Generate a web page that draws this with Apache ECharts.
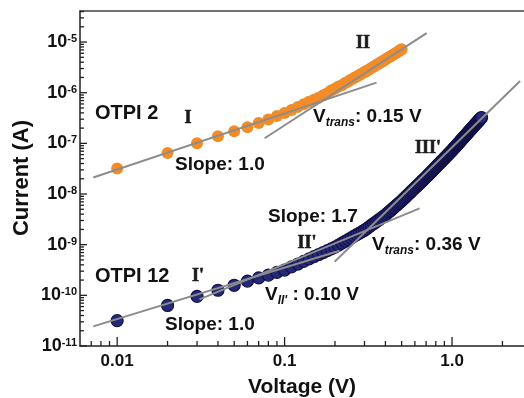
<!DOCTYPE html>
<html><head><meta charset="utf-8">
<script src="https://cdn.jsdelivr.net/npm/echarts@6/dist/echarts.min.js"></script>
<style>html,body{margin:0;padding:0;background:#fff}#c{width:524px;height:398px}</style>
</head><body><div id="c"></div>
<script>
// ---- data ----
const voltageOtpi2 = [0.01,0.02,0.03,0.04,0.05,0.06,0.07,0.08,0.09,0.10,
  0.11,0.12,0.13,0.14,0.15,0.16,0.17,0.18,0.19,0.20,
  0.21,0.22,0.23,0.24,0.25,0.26,0.27,0.28,0.29,0.30,
  0.31,0.32,0.33,0.34,0.35,0.36,0.37,0.38,0.39,0.40,
  0.41,0.42,0.43,0.44,0.45,0.46,0.47,0.48,0.49,0.50];
const currentOtpi2 = [3.2e-8,6.46e-8,1.0e-7,1.38e-7,1.74e-7,2.09e-7,2.51e-7,2.95e-7,3.47e-7,3.98e-7,
  4.57e-7,5.25e-7,5.89e-7,6.61e-7,7.24e-7,7.94e-7,8.91e-7,9.77e-7,1.10e-6,1.20e-6,
  1.32e-6,1.41e-6,1.55e-6,1.66e-6,1.82e-6,1.95e-6,2.09e-6,2.24e-6,2.40e-6,2.57e-6,
  2.72e-6,2.88e-6,3.09e-6,3.24e-6,3.47e-6,3.63e-6,3.85e-6,4.07e-6,4.27e-6,4.52e-6,
  4.79e-6,5.01e-6,5.25e-6,5.50e-6,5.75e-6,6.03e-6,6.31e-6,6.61e-6,6.92e-6,7.24e-6];

const voltageOtpi12 = [0.01,0.02,0.03,0.04,0.05,0.06,0.07,0.08,0.09,0.10,
  0.11,0.12,0.13,0.14,0.15,0.16,0.17,0.18,0.19,0.20,
  0.21,0.22,0.23,0.24,0.25,0.26,0.27,0.28,0.29,0.30,
  0.31,0.32,0.33,0.34,0.35,0.36,0.37,0.38,0.39,0.40,
  0.41,0.42,0.43,0.44,0.45,0.46,0.47,0.48,0.49,0.50,
  0.51,0.52,0.53,0.54,0.55,0.56,0.57,0.58,0.59,0.60,
  0.61,0.62,0.63,0.64,0.65,0.66,0.67,0.68,0.69,0.70,
  0.71,0.72,0.73,0.74,0.75,0.76,0.77,0.78,0.79,0.80,
  0.81,0.82,0.83,0.84,0.85,0.86,0.87,0.88,0.89,0.90,
  0.91,0.92,0.93,0.94,0.95,0.96,0.97,0.98,0.99,1.00,
  1.01,1.02,1.03,1.04,1.05,1.06,1.07,1.08,1.09,1.10,
  1.11,1.12,1.13,1.14,1.15,1.16,1.17,1.18,1.19,1.20,
  1.21,1.22,1.23,1.24,1.25,1.26,1.27,1.28,1.29,1.30,
  1.31,1.32,1.33,1.34,1.35,1.36,1.37,1.38,1.39,1.40,
  1.41,1.42,1.43,1.44,1.45,1.46,1.47,1.48,1.49,1.50];
const currentOtpi12 = [3.16e-11,6.31e-11,9.55e-11,1.26e-10,1.58e-10,1.91e-10,2.21e-10,2.51e-10,2.84e-10,3.16e-10,
  3.65e-10,4.15e-10,4.69e-10,5.24e-10,5.81e-10,6.40e-10,7.00e-10,7.62e-10,8.28e-10,8.93e-10,
  9.79e-10,1.07e-9,1.17e-9,1.26e-9,1.36e-9,1.47e-9,1.58e-9,1.69e-9,1.81e-9,1.93e-9,
  2.08e-9,2.25e-9,2.43e-9,2.60e-9,2.79e-9,2.99e-9,3.18e-9,3.40e-9,3.62e-9,3.85e-9,
  4.14e-9,4.43e-9,4.73e-9,5.06e-9,5.41e-9,5.78e-9,6.14e-9,6.52e-9,6.92e-9,7.35e-9,
  7.85e-9,8.32e-9,8.83e-9,9.38e-9,9.93e-9,1.05e-8,1.12e-8,1.18e-8,1.25e-8,1.32e-8,
  1.38e-8,1.46e-8,1.53e-8,1.61e-8,1.70e-8,1.79e-8,1.87e-8,1.97e-8,2.06e-8,2.15e-8,
  2.25e-8,2.37e-8,2.48e-8,2.60e-8,2.72e-8,2.85e-8,2.96e-8,3.11e-8,3.26e-8,3.39e-8,
  3.52e-8,3.70e-8,3.85e-8,4.00e-8,4.16e-8,4.33e-8,4.53e-8,4.68e-8,4.86e-8,5.06e-8,
  5.26e-8,5.47e-8,5.64e-8,5.86e-8,6.10e-8,6.30e-8,6.55e-8,6.75e-8,7.01e-8,7.24e-8,
  7.50e-8,7.82e-8,8.09e-8,8.38e-8,8.67e-8,8.97e-8,9.27e-8,9.59e-8,9.93e-8,1.03e-7,
  1.06e-7,1.10e-7,1.14e-7,1.18e-7,1.22e-7,1.25e-7,1.29e-7,1.34e-7,1.38e-7,1.42e-7,
  1.47e-7,1.51e-7,1.56e-7,1.60e-7,1.66e-7,1.70e-7,1.76e-7,1.80e-7,1.87e-7,1.91e-7,
  1.96e-7,2.03e-7,2.08e-7,2.14e-7,2.19e-7,2.27e-7,2.33e-7,2.39e-7,2.45e-7,2.51e-7,
  2.58e-7,2.64e-7,2.72e-7,2.79e-7,2.86e-7,2.93e-7,3.01e-7,3.08e-7,3.16e-7,3.24e-7];

// fitted lines (endpoints: [voltage, current])
const fitOtpi2Ohmic = [[0.0072, 2.12e-8], [0.354, 1.58e-6]];
const fitOtpi2Region2 = [[0.076, 1.26e-7], [0.705, 1.5e-5]];
const fitOtpi12Ohmic = [[0.0072, 2.44e-11], [0.213, 7.6e-10]];
const fitOtpi12Region2 = [[0.031, 8.3e-11], [0.64, 5.2e-9]];
const fitOtpi12Region3 = [[0.199, 4.6e-10], [2.55, 1.7e-6]];

// axes
const xMin = 0.006, xMax = 2.69;
const yMin = 1e-11, yMax = 4.1e-5;
const xMajorTicks = [0.01, 0.1, 1];
const xTickLabels = ['0.01', '0.1', '1.0'];
const yMajorTicks = [1e-11, 1e-10, 1e-9, 1e-8, 1e-7, 1e-6, 1e-5];
const yTickExponents = ['-11', '-10', '-9', '-8', '-7', '-6', '-5'];

// minor tick positions (2..9 per decade) built from major ticks
const xMinorTicks = [];
[0.001, 0.01, 0.1, 1].forEach(d => { for (let m = 2; m <= 9; m++) { const v = d * m; if (v > xMin && v < xMax) xMinorTicks.push(v); } });
const yMinorTicks = [];
[1e-11, 1e-10, 1e-9, 1e-8, 1e-7, 1e-6, 1e-5].forEach(d => { for (let m = 2; m <= 9; m++) { const v = d * m; if (v > yMin && v < yMax) yMinorTicks.push(v); } });

const FF = '"Liberation Sans", Arial, Helvetica, sans-serif';
const SERIF = '"Liberation Serif", "Times New Roman", serif';

function pairs(xs, ys) { return xs.map((x, i) => [x, ys[i]]); }
function near(a, b) { return Math.abs(Math.log10(a) - Math.log10(b)) < 1e-6; }

function tickSeries(axis, values, len) {
  return {
    type: 'custom', silent: true, z: 6, clip: false,
    data: values.map(v => axis === 'x' ? [v, yMin] : [xMin, v]),
    encode: { x: 0, y: 1 },
    renderItem: function (params, api) {
      const p = api.coord([api.value(0), api.value(1)]);
      const shape = axis === 'x'
        ? { x1: p[0], y1: p[1], x2: p[0], y2: p[1] - len }
        : { x1: p[0], y1: p[1], x2: p[0] + len, y2: p[1] };
      return { type: 'line', shape: shape, style: { stroke: '#222', lineWidth: 1.3 } };
    }
  };
}
function fitSeries(d) {
  return { type: 'line', data: d, symbol: 'none', z: 4, silent: true,
    lineStyle: { color: '#8c8c8c', width: 2 } };
}
function txt(x, y, text, opt) {
  return { type: 'text', x: x, y: y, z: 100, silent: true,
    style: Object.assign({ text: text, fontFamily: FF, fontWeight: 'bold', fontSize: 19,
      fill: '#111', align: 'left', verticalAlign: 'middle' }, opt || {}) };
}
function roman(x, y, text) {
  return txt(x, y, text, { fontFamily: SERIF, fontWeight: 900, fontSize: 18, align: 'center', fill: '#1a1a1a', stroke: '#1a1a1a', lineWidth: 0.6 });
}
function vLabel(x, y, sub, rest) {
  return { type: 'text', x: x, y: y, z: 100, silent: true,
    style: { text: '{v|V}{s|' + sub + '}{v|' + rest + '}', align: 'left', verticalAlign: 'middle',
      rich: {
        v: { fontFamily: FF, fontWeight: 'bold', fontSize: 19, lineHeight: 19, fill: '#111' },
        s: { fontFamily: FF, fontWeight: 'bold', fontStyle: 'italic', fontSize: 12, lineHeight: 12, padding: [11, 0, 0, 0], fill: '#111' }
      } } };
}

const chart = echarts.init(document.getElementById('c'), null, { renderer: 'canvas' });
chart.setOption({
  animation: false,
  backgroundColor: '#fff',
  grid: { left: 80, top: 11, right: 0, bottom: 52, outerBoundsMode: 'none', containLabel: false },
  xAxis: [{
    type: 'log', logBase: 10, min: xMin, max: xMax,
    axisLine: { show: true, lineStyle: { color: '#222', width: 1.5 } },
    axisTick: { show: false }, splitLine: { show: false }, minorTick: { show: false },
    axisLabel: { show: true, margin: 7, color: '#111', fontFamily: FF, fontWeight: 'bold', fontSize: 17,
      showMinLabel: true, showMaxLabel: true, hideOverlap: false,
      formatter: function (v) { for (let i = 0; i < xMajorTicks.length; i++) if (near(v, xMajorTicks[i])) return xTickLabels[i]; return ''; } }
  }, {
    type: 'log', logBase: 10, min: xMin, max: xMax, position: 'top',
    axisLine: { show: true, lineStyle: { color: '#444', width: 1.5 } },
    axisTick: { show: false }, axisLabel: { show: false }, splitLine: { show: false }
  }],
  yAxis: {
    type: 'log', logBase: 10, min: yMin, max: yMax,
    axisLine: { show: true, lineStyle: { color: '#222', width: 1.5 } },
    axisTick: { show: false }, splitLine: { show: false }, minorTick: { show: false },
    axisLabel: { show: true, margin: 3, hideOverlap: false,
      formatter: function (v) { for (let i = 0; i < yMajorTicks.length; i++) if (near(v, yMajorTicks[i])) return '{b|10}{s|' + yTickExponents[i] + '}'; return ''; },
      rich: {
        b: { fontFamily: FF, fontWeight: 'bold', fontSize: 18, lineHeight: 18, color: '#111' },
        s: { fontFamily: FF, fontWeight: 'bold', fontSize: 11, lineHeight: 11, padding: [0, 0, 6, 0], color: '#111' }
      } }
  },
  series: [
    { type: 'scatter', name: 'OTPI 2', data: pairs(voltageOtpi2, currentOtpi2), symbol: 'circle', symbolSize: 12, z: 2,
      itemStyle: { color: '#F28C28', opacity: 1 } },
    { type: 'scatter', name: 'OTPI 12', data: pairs(voltageOtpi12, currentOtpi12), symbol: 'circle', symbolSize: 12, z: 2,
      itemStyle: { color: '#262878', borderColor: '#121248', borderWidth: 1.2, opacity: 1 } },
    fitSeries(fitOtpi2Ohmic), fitSeries(fitOtpi2Region2),
    fitSeries(fitOtpi12Ohmic), fitSeries(fitOtpi12Region2), fitSeries(fitOtpi12Region3),
    tickSeries('x', xMajorTicks, 9), tickSeries('x', xMinorTicks, 5),
    tickSeries('y', yMajorTicks, 7), tickSeries('y', yMinorTicks, 4)
  ],
  graphic: [
    txt(95, 113, 'OTPI 2', { fontSize: 20 }),
    roman(188, 118, 'I'),
    txt(175, 165, 'Slope: 1.0'),
    roman(363, 43, 'II'),
    vLabel(313, 117, 'trans', ': 0.15 V'),
    roman(428, 148, "III'"),
    vLabel(372, 245, 'trans', ': 0.36 V'),
    txt(268, 217, 'Slope: 1.7'),
    roman(307, 243, "II'"),
    txt(95, 276, 'OTPI 12', { fontSize: 20 }),
    roman(198, 276, "I'"),
    vLabel(265, 295, "II'", ' : 0.10 V'),
    txt(165, 325, 'Slope: 1.0'),
    txt(302, 387, 'Voltage (V)', { fontSize: 21, align: 'center' }),
    { type: 'text', x: 22, y: 178, rotation: Math.PI / 2, z: 100, silent: true,
      style: { text: 'Current (A)', fontFamily: FF, fontWeight: 'bold', fontSize: 22, fill: '#111', align: 'center', verticalAlign: 'middle' } }
  ]
});
</script></body></html>
